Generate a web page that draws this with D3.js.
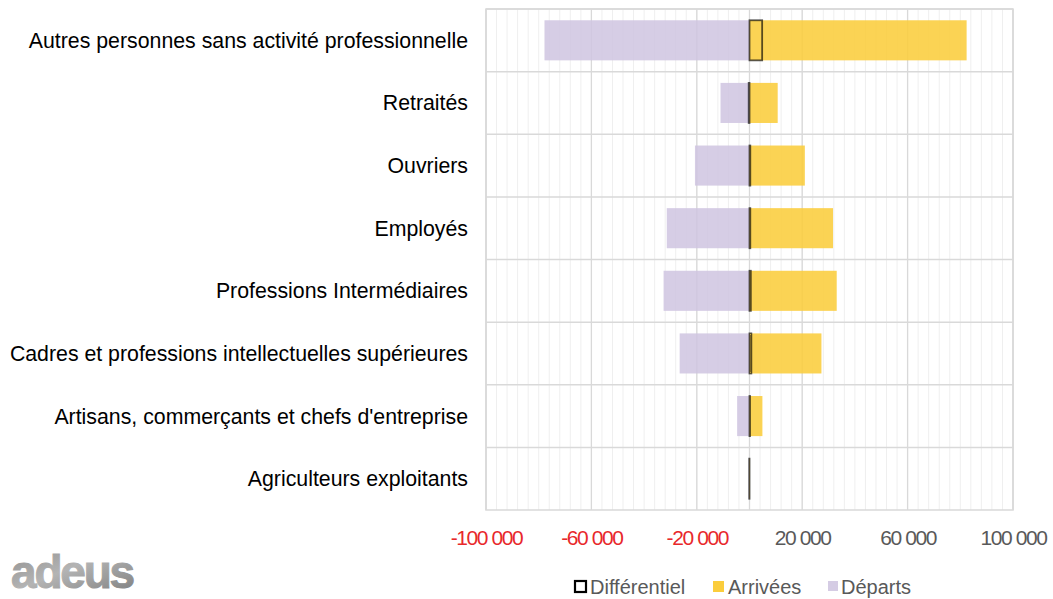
<!DOCTYPE html>
<html><head><meta charset="utf-8">
<script src="https://cdn.jsdelivr.net/npm/d3@7"></script>
<style>
body{margin:0;background:#fff;}
svg{display:block;font-family:"Liberation Sans",Arial,sans-serif;}
</style></head>
<body>
<svg id="c" width="1053" height="599"></svg>
<script>
const categories = ["Autres personnes sans activité professionnelle","Retraités","Ouvriers","Employés","Professions Intermédiaires","Cadres et professions intellectuelles supérieures","Artisans, commerçants et chefs d'entreprise","Agriculteurs exploitants"];
const departs = [-77800, -11000, -20700, -31400, -32600, -26500, -4700, -300];
const arrivees = [82400, 10700, 21000, 31700, 33100, 27300, 4900, 200];
const differentiel = [4800, -300, 300, 300, 500, 700, 200, -100];
const tickValues = [-100000, -60000, -20000, 20000, 60000, 100000];
const seriesNames = ["Différentiel", "Arrivées", "Départs"];

const svg = d3.select("#c");
const L = 486, R = 1013, T = 9, B = 510;
const x = d3.scaleLinear().domain([-100000, 100000]).range([L, R]);
const y = d3.scaleBand().domain(categories).range([T, B]).padding(0);
const inset = y.bandwidth() * 0.18, bh = y.bandwidth() * 0.64;

const g = svg.append("g");
// minor gridlines
g.append("g").selectAll("line").data(d3.range(-100000, 100001, 4000)).join("line")
  .attr("x1", d => x(d)).attr("x2", d => x(d)).attr("y1", T).attr("y2", B)
  .attr("stroke", "#efefef").attr("stroke-width", 1);
// major gridlines
g.append("g").selectAll("line").data(tickValues.concat([0])).join("line")
  .attr("x1", d => x(d)).attr("x2", d => x(d)).attr("y1", T).attr("y2", B)
  .attr("stroke", "#d9d9d9").attr("stroke-width", 1.3);
// row separators
g.append("g").selectAll("line").data(categories).join("line")
  .attr("x1", L).attr("x2", R).attr("y1", d => y(d)).attr("y2", d => y(d))
  .attr("stroke", "#d9d9d9").attr("stroke-width", 1.5);
g.append("rect").attr("x", L).attr("y", T).attr("width", R - L).attr("height", B - T)
  .attr("fill", "none").attr("stroke", "#d9d9d9").attr("stroke-width", 1.5);

// bars
g.append("g").selectAll("rect").data(categories).join("rect")
  .attr("x", (d, i) => x(departs[i])).attr("width", (d, i) => x(0) - x(departs[i]))
  .attr("y", d => y(d) + inset).attr("height", bh)
  .attr("fill", "#cfc4e0").attr("fill-opacity", 0.85);
g.append("g").selectAll("rect").data(categories).join("rect")
  .attr("x", x(0)).attr("width", (d, i) => x(arrivees[i]) - x(0))
  .attr("y", d => y(d) + inset).attr("height", bh)
  .attr("fill", "#fbcd3c").attr("fill-opacity", 0.88);
// differential boxes
g.append("g").selectAll("rect").data(categories).join("rect")
  .attr("x", (d, i) => Math.min(x(0), x(differentiel[i])))
  .attr("width", (d, i) => Math.abs(x(differentiel[i]) - x(0)))
  .attr("y", d => y(d) + inset).attr("height", bh)
  .attr("fill", "none").attr("stroke", "#000").attr("stroke-width", 1.8).attr("stroke-opacity", 0.65);

// category labels
svg.append("g").selectAll("text").data(categories).join("text")
  .attr("x", 468).attr("y", d => y(d) + y.bandwidth() / 2).attr("dy", "0.35em")
  .attr("text-anchor", "end").attr("font-size", 21.3).attr("fill", "#000").text(d => d);

// x axis
const fmt = v => d3.format(",")(v).replace(/,/g, " ").replace("−", "-");
const ax = svg.append("g").attr("transform", `translate(0,${B})`)
  .call(d3.axisBottom(x).tickValues(tickValues).tickSize(0).tickPadding(20).tickFormat(fmt));
ax.select(".domain").remove();
ax.selectAll("text").attr("font-size", 21).attr("letter-spacing", -1.4)
  .attr("font-family", "'Liberation Sans',Arial,sans-serif")
  .attr("fill", d => d < 0 ? "#e8282b" : "#595959");

// legend
const legend = svg.append("g");
const items = [
  {x: 575, w: 11, fill: "#fff", stroke: "#000", tx: 590},
  {x: 713, w: 11, fill: "#fbcd3c", stroke: "none", tx: 728},
  {x: 828, w: 10, fill: "#d5cce4", stroke: "none", tx: 841}
];
seriesNames.forEach((n, i) => {
  const it = items[i];
  legend.append("rect").attr("x", it.x).attr("y", 581).attr("width", it.w).attr("height", it.w)
    .attr("fill", it.fill).attr("stroke", it.stroke).attr("stroke-width", 2.2);
  legend.append("text").attr("x", it.tx).attr("y", 594)
    .attr("font-size", 20).attr("fill", "#595959").text(n);
});

// logo
const defs = svg.append("defs");
const lg = defs.append("linearGradient").attr("id", "lg").attr("x1", 0).attr("y1", 0).attr("x2", 1).attr("y2", 1);
lg.append("stop").attr("offset", 0).attr("stop-color", "#8c8c8c");
lg.append("stop").attr("offset", 0.45).attr("stop-color", "#b4b4b4");
lg.append("stop").attr("offset", 1).attr("stop-color", "#7c7c7c");
svg.append("text").attr("x", 11).attr("y", 588).attr("font-size", 46).attr("font-weight", "bold")
  .attr("letter-spacing", -2.2).attr("fill", "url(#lg)").attr("stroke", "url(#lg)").attr("stroke-width", 1)
  .attr("font-family", "'Liberation Sans',Arial,sans-serif").text("adeus");
</script>
</body></html>
